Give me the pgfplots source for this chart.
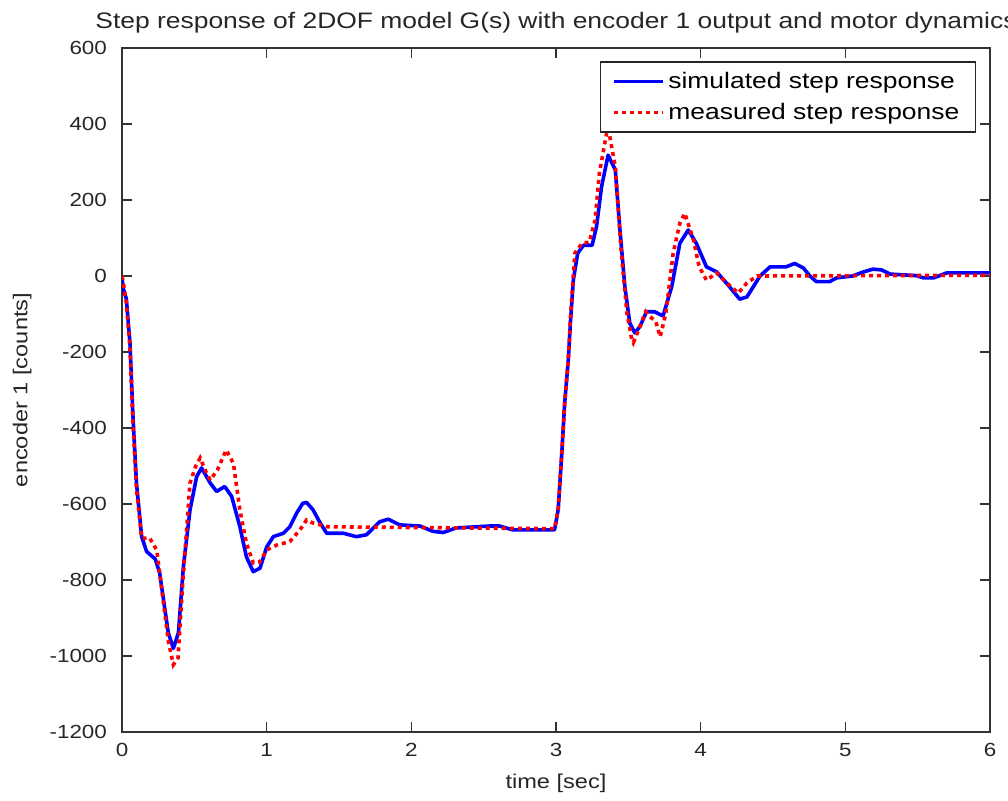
\documentclass[border=0pt]{standalone}
\usepackage{fontspec}
\setmainfont{Liberation Sans}[FakeStretch=1.18]
\usepackage{pgfplots}
\usepackage{pgfplotstable}
\pgfplotsset{compat=1.18}

% simulated response (blue)
\pgfplotstableread{
t y
0.000 -5
0.010 -35
0.030 -60
0.055 -176
0.076 -371
0.100 -545
0.136 -686
0.170 -725
0.200 -735
0.230 -745
0.260 -781
0.290 -860
0.320 -939
0.355 -980
0.390 -939
0.424 -766
0.470 -616
0.516 -528
0.550 -505
0.580 -525
0.610 -545
0.654 -567
0.710 -554
0.758 -580
0.815 -660
0.860 -739
0.907 -778
0.954 -769
1.000 -713
1.046 -686
1.115 -677
1.160 -660
1.207 -624
1.250 -598
1.276 -596
1.320 -615
1.370 -650
1.415 -677
1.530 -677
1.620 -686
1.690 -681
1.780 -647
1.840 -640
1.920 -655
2.060 -658
2.150 -672
2.220 -675
2.310 -663
2.540 -658
2.610 -658
2.700 -668
2.990 -668
3.015 -615
3.040 -466
3.060 -334
3.085 -221
3.100 -120
3.120 -10
3.150 60
3.190 81
3.250 81
3.280 130
3.315 235
3.360 318
3.410 279
3.440 130
3.476 -28
3.510 -124
3.545 -150
3.580 -133
3.626 -94
3.680 -94
3.740 -105
3.800 -28
3.856 86
3.914 121
3.970 86
4.040 24
4.110 11
4.190 -24
4.270 -61
4.320 -55
4.410 0
4.480 24
4.590 24
4.650 33
4.710 21
4.755 0
4.800 -15
4.890 -15
4.940 -5
5.050 0
5.120 10
5.190 18
5.250 16
5.310 5
5.490 1
5.540 -5
5.610 -5
5.700 8
6.000 8
}\simdata

% measured response (red)
\pgfplotstableread{
t y
0.000 0
0.010 -20
0.030 -70
0.055 -190
0.076 -390
0.100 -560
0.136 -690
0.160 -690
0.190 -689
0.240 -721
0.280 -840
0.320 -960
0.355 -1023
0.387 -1005
0.420 -807
0.470 -545
0.510 -500
0.540 -479
0.580 -515
0.610 -537
0.660 -510
0.720 -458
0.770 -493
0.815 -616
0.860 -703
0.907 -755
0.954 -752
1.000 -721
1.070 -708
1.160 -699
1.230 -668
1.276 -642
1.320 -650
1.420 -660
2.990 -665
3.015 -615
3.040 -466
3.060 -334
3.085 -221
3.100 -110
3.130 60
3.180 86
3.230 89
3.270 147
3.300 271
3.350 376
3.370 370
3.410 288
3.450 68
3.490 -97
3.520 -160
3.535 -175
3.580 -133
3.620 -94
3.650 -107
3.690 -120
3.720 -160
3.760 -97
3.810 60
3.856 139
3.890 165
3.950 95
3.990 24
4.040 -11
4.110 8
4.180 -18
4.260 -45
4.320 -18
4.390 0
6.000 2
}\measdata

\begin{document}
\begin{tikzpicture}
\begin{axis}[
    name=ax,
    scale only axis,
    width=434pt, height=342pt,
    xmin=0, xmax=6, ymin=-1200, ymax=600,
    xtick={0,1,...,6},
    ytick={-1200,-1000,...,600},
    tick align=inside,
    major tick length=5pt,
    axis line style={black!80, line width=0.8pt},
    every tick/.style={black!80, line width=0.8pt},
    /pgf/number format/assume math mode=true,
    /pgf/number format/1000 sep={},
    tick label style={font=\fontsize{9.5}{11}\selectfont, black!85},
    yticklabel style={xshift=-4pt},
    xticklabel style={yshift=-2pt},
    title={Step response of 2DOF model G(s) with encoder 1 output and motor dynamics},
    title style={font=\fontsize{11.2}{13}\selectfont, black!85, at={(axis description cs:0.5,1)}, anchor=base, yshift=3.5pt},
    xlabel={time [sec]},
    ylabel={encoder 1 [counts]},
    xlabel style={font=\fontsize{10}{12}\selectfont, black!85, at={(axis description cs:0.5,-0.075)}, anchor=center},
    ylabel style={font=\fontsize{10}{12}\selectfont, black!85, at={(axis description cs:-0.115,0.5)}, anchor=center},
    legend cell align=left,
    legend style={at={(axis description cs:0.984,0.981)}, anchor=north east,
        font=\fontsize{11.2}{13}\selectfont, draw=black!85, line width=0.8pt,
        inner xsep=6pt, inner ysep=3pt, row sep=2pt},
    legend image code/.code={\draw[#1, line width=1.8pt] (0cm,0cm) -- (0.85cm,0cm);},
]
\addplot[blue, line width=1.8pt, line join=round] table[x=t, y=y] {\simdata};
\addlegendentry{simulated step response}
\addplot[red, line width=1.8pt, dash pattern=on 2pt off 2pt] table[x=t, y=y] {\measdata};
\addlegendentry{measured step response}
\end{axis}
\pgfresetboundingbox
\path[use as bounding box] ([shift={(-61pt,-34pt)}]ax.south west) rectangle ([shift={(9pt,24pt)}]ax.north east);
\end{tikzpicture}
\end{document}
